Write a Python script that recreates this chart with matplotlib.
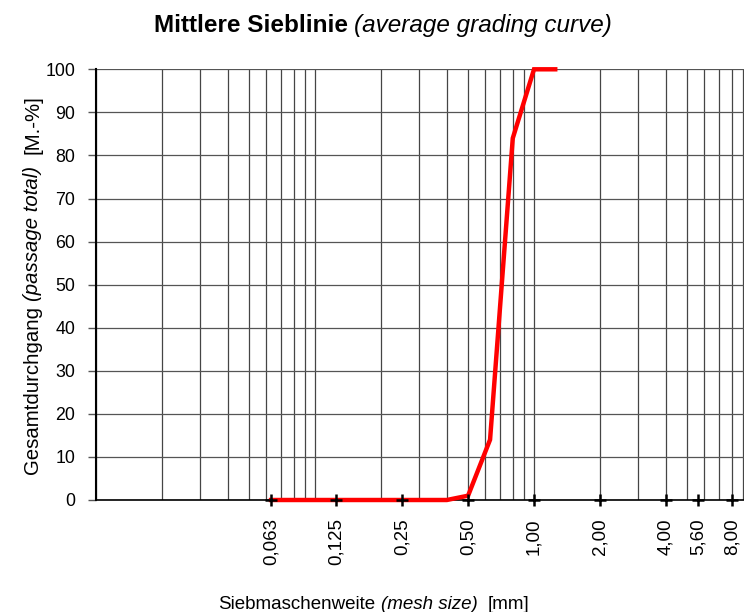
import numpy as np
import matplotlib
matplotlib.use("Agg")
import matplotlib.pyplot as plt
from matplotlib.ticker import FixedLocator, LogLocator, NullFormatter
from matplotlib.transforms import IdentityTransform

plt.rcParams['font.family'] = ['Liberation Sans', 'DejaVu Sans']

# Data
sieve_sizes = [0.063, 0.125, 0.25, 0.4, 0.5, 0.63, 0.8, 1.0, 1.25]
passage = [0, 0, 0, 0, 1, 14, 84, 100, 100]
tick_values = [0.063, 0.125, 0.25, 0.5, 1.0, 2.0, 4.0, 5.6, 8.0]
tick_labels = ["0,063", "0,125", "0,25", "0,50", "1,00", "2,00", "4,00", "5,60", "8,00"]
y_ticks = list(range(0, 101, 10))

W, H = 744, 612
fig = plt.figure(figsize=(W / 100, H / 100), dpi=100)
left_px, right_px, top_px, bot_px = 96, 753, 69.3, 500
ax = fig.add_axes([left_px / W, 1 - bot_px / H, (right_px - left_px) / W, (bot_px - top_px) / H])

ax.set_xscale('log')
ax.set_xlim(0.01, 10)
ax.set_ylim(0, 100)

ax.xaxis.set_major_locator(FixedLocator(tick_values))
ax.set_xticklabels(tick_labels, rotation=90, fontsize=13.5)
ax.xaxis.set_minor_locator(LogLocator(base=10, subs=np.arange(1, 10)))
ax.xaxis.set_minor_formatter(NullFormatter())
ax.xaxis.remove_overlapping_locs = False
ax.tick_params(axis='x', which='both', length=0, pad=13)
ax.grid(True, which='minor', axis='x', color='#454545', linewidth=0.9)
ax.grid(False, which='major', axis='x')

ax.yaxis.set_major_locator(FixedLocator(y_ticks))
ax.tick_params(axis='y', which='major', length=6, width=1, color='#555555', pad=9, labelsize=12.8)
ax.grid(True, which='major', axis='y', color='#555555', linewidth=0.9)

for s in ['top', 'right']:
    ax.spines[s].set_visible(False)
ax.spines['left'].set_linewidth(1.5)
ax.spines['left'].set_color('black')
ax.spines['bottom'].set_linewidth(1.2)
ax.spines['bottom'].set_color('black')

ax.plot(sieve_sizes, passage, color='#ff0000', linewidth=3.2, solid_joinstyle='miter', zorder=3, clip_on=False)
ax.plot(tick_values, [0] * len(tick_values), linestyle='none', marker='+', markersize=8,
        markeredgewidth=1.8, color='black', zorder=4, clip_on=False)

renderer = fig.canvas.get_renderer()


def text_width(s, **kw):
    t = fig.text(0, 0, s, **kw)
    w = t.get_window_extent(renderer).width
    t.remove()
    return w


def styled_text(pieces, center, base, fontsize, vertical=False):
    # pieces: list of (string, style, weight, gap_spaces_after)
    widths, gaps = [], []
    for s, style, weight, nsp in pieces:
        kw = dict(fontsize=fontsize, style=style, weight=weight)
        widths.append(text_width(s, **kw))
        sp = text_width("a" + " " * nsp + "a", **kw) - text_width("aa", **kw) if nsp else 0
        gaps.append(sp)
    total = sum(widths) + sum(gaps[:-1])
    pos = center - total / 2
    for (s, style, weight, nsp), w, g in zip(pieces, widths, gaps):
        if vertical:
            fig.text(base, pos, s, fontsize=fontsize, style=style, weight=weight,
                     rotation=90, rotation_mode='anchor', ha='left', va='baseline',
                     transform=IdentityTransform())
        else:
            fig.text(pos, base, s, fontsize=fontsize, style=style, weight=weight,
                     ha='left', va='baseline', transform=IdentityTransform())
        pos += w + g


styled_text([("Mittlere Sieblinie", 'normal', 'bold', 1),
             ("(average grading curve)", 'italic', 'normal', 0)],
            center=383, base=H - 32, fontsize=17.5)
styled_text([("Siebmaschenweite", 'normal', 'normal', 1),
             ("(mesh size)", 'italic', 'normal', 2),
             ("[mm]", 'normal', 'normal', 0)],
            center=374, base=H - 609, fontsize=13.5)
styled_text([("Gesamtdurchgang", 'normal', 'normal', 1),
             ("(passage total)", 'italic', 'normal', 2),
             ("[M.-%]", 'normal', 'normal', 0)],
            center=H - 285, base=38, fontsize=14.7, vertical=True)

fig.savefig("out.png", dpi=100)
